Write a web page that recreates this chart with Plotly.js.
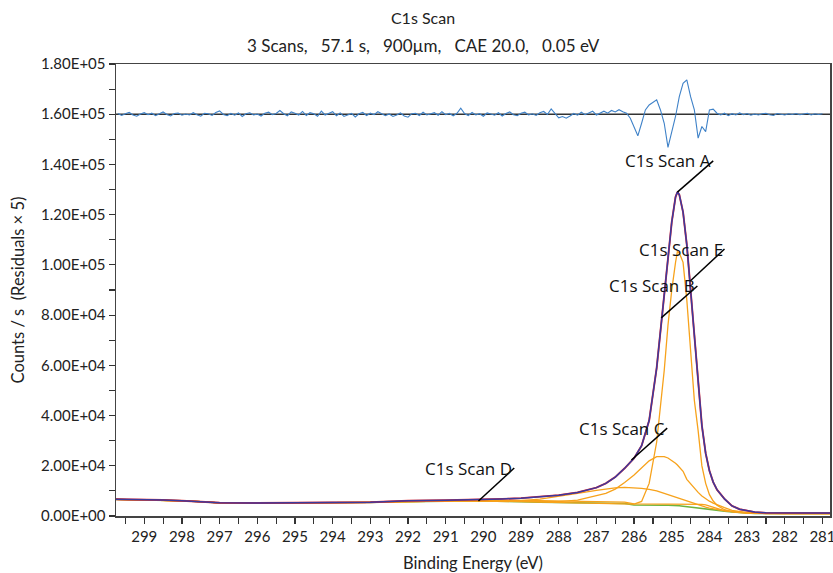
<!DOCTYPE html>
<html><head><meta charset="utf-8">
<script src="https://cdn.plot.ly/plotly-3.0.1.min.js"></script>
<style>html,body{margin:0;padding:0;background:#fff}#chart{width:833px;height:573px}</style>
</head><body><div id="chart"></div>
<script>
// Binding energy grid (eV) for the fitted curves
const bindingEnergy = [299.75, 299.5, 299, 298.5, 298, 297.5, 297, 296, 295, 294,
  293, 292.5, 292, 291, 290, 289.5, 289, 288.5, 288, 287.5,
  287, 286.75, 286.5, 286.25, 286, 285.8, 285.6, 285.4, 285.2, 285.1,
  285.0, 284.9, 284.85, 284.8, 284.7, 284.6, 284.5, 284.4, 284.3, 284.2,
  284.1, 284.0, 283.9, 283.8, 283.6, 283.4, 283.2, 283.0, 282.8, 282.5,
  282, 281.5, 281, 280.8];

// Envelope (fit sum), counts/s
const envelope = [6650, 6650, 6500, 6400, 6100, 5800, 5250, 5200, 5200, 5200,
  5500, 5800, 6100, 6300, 6500, 6800, 7100, 7600, 8300, 9400,
  11300, 13000, 15500, 19000, 23000, 28000, 38000, 59000, 87000, 103000,
  117000, 127000, 129000, 128000, 121000, 108000, 90000, 70000, 52000, 36000,
  25000, 18000, 13500, 10500, 6800, 4000, 2700, 2000, 1550, 1250,
  1150, 1150, 1150, 1150];

// Background (Shirley-type)
const background = [6600, 6550, 6450, 6350, 6050, 5700, 5200, 5150, 5150, 5150,
  5400, 5600, 5800, 5900, 5950, 5900, 5700, 5500, 5350, 5300,
  5250, 5200, 5150, 5000, 4400, 4300, 4280, 4270, 4260, 4260,
  4260, 4250, 4200, 4100, 3900, 3700, 3500, 3300, 3100, 2950,
  2800, 2600, 2450, 2300, 1950, 1650, 1350, 1150, 1050, 1000,
  1000, 1000, 1000, 1000];

// Component heights above background
const peakMain = [0,0,0,0,0,0,0,0,0,0, 0,0,0,0,0,0,0,0,0,0, 0,0,0,0,
  300, 1500, 8700, 25200, 53700, 71700, 85700, 96700, 101100, 100700,
  97100, 82300, 63500, 42700, 30900, 17000, 10200, 5900, 3500, 2000,
  550, 100, 50, 0,0,0,0,0,0,0];
const peakSecond = [0,0,0,0,0,0,0,0,0,0, 0,0,0,0,0,0,0,
  100, 350, 1000, 2650, 3800, 5550, 8300, 11900, 15000, 17700, 19400, 19400, 18850,
  17950, 16750, 16100, 15400, 13900, 10900, 9300, 7700, 6300, 5050,
  4000, 3300, 2650, 2100, 1350, 550, 250, 150, 100, 0,0,0,0,0];
const peakBroad = [0,0,0,0,0,0,0,0,0,0, 0,0,0,0,0,
  100, 400, 1200, 2350, 3700, 4950, 5600, 6050, 6400, 6900, 6700, 6320, 5730, 4740, 4240,
  3740, 3250, 3000, 2800, 2500, 2200, 1800, 1500, 1200, 950,
  700, 550, 400, 250, 100, 100, 100, 50, 0,0,0,0,0,0];
const peakSmall = [0,0,0,0,0,0,0,0,0,0, 0,0,0,0,
  250, 400, 550, 650, 700, 700, 650, 600, 550, 500, 400, 500, 510, 520, 520, 520,
  520, 530, 570, 670, 860, 1050, 1250, 1450, 1600, 1700,
  1600, 1300, 950, 600, 150, 100, 50, 20, 0,0,0,0,0,0];

// Residuals (x5), deviation from the residual zero line; grid 299.7 -> 281.0 eV, 0.1 eV step
const residualStart = 299.7, residualStep = 0.1;
const residualZero = 160000;
const residuals = [
  300, -500, 200, 700, -300, -800, 100, 600, -200, 400,
  -600, 200, 900, -100, -700, 300, 500, -400, 100, -300,
  600, -200, -800, 400, 200, -500, 700, 1300, -100, -600,
  300, -400, 500, -900, 200, 600, -300, 100, -700, 400,
  800, -200, 300, 1500, 200, -600, 900, 400, -300, 1100,
  -500, 600, 200, -800, 1200, -300, 300, 1000, -600, 500,
  -900, -400, 300, -1100, 200, 700, -500, 400, -200, 1000,
  300, -600, 100, -900, -300, 500, -700, -1200, 200, 400,
  -500, 800, -300, 200, 600, -400, 1000, -200, 300, -600,
  400, 2400, 300, -500, 700, -300, 200, -800, 500, 100,
  -400, 600, -700, 300, 900, -200, -600, 400, 800, -300,
  200, -500, 600, 1100, -100, 2100, 300, -1400, -900, -1600,
  -700, 300, -400, 800, -200, 600, 1200, -300, 600, 1200,
  400, 1500, 900, 1800, 1000, 400, -1600, -4900, -8600, -3600,
  1700, 3700, 4600, 5700, 1700, -3600, -13200, -6900, -900, 7000,
  12300, 13700, 7000, 1700, -9500, -4900, -6900, 1700, 2000, 400,
  -300, 400, -600, 200, -300, 500, -200, 300, -400, 100,
  -300, 200, 400, -200, -500, 300, 100, -300, 200, -100,
  300, -200, 100, 400, -300, 200, -100, 200];

// Axis ticks
const xTickVals = [299, 298, 297, 296, 295, 294, 293, 292, 291, 290, 289, 288, 287, 286, 285, 284, 283, 282, 281];
const xTickText = xTickVals.map(String);
const yTickVals = [0, 20000, 40000, 60000, 80000, 100000, 120000, 140000, 160000, 180000];
const yTickText = ["0.00E+00", "2.00E+04", "4.00E+04", "6.00E+04", "8.00E+04", "1.00E+05", "1.20E+05", "1.40E+05", "1.60E+05", "1.80E+05"];

// Peak labels: text, tip point, label anchor point
const labelText = ["C1s Scan A", "C1s Scan E", "C1s Scan B", "C1s Scan C", "C1s Scan D"];
const labelTipBE = [284.85, 284.51, 285.28, 286.07, 290.13];
const labelTipCounts = [129000, 93600, 78900, 22300, 6000];
const labelTailBE = [283.90, 283.60, 284.32, 285.12, 289.18];
const labelTailCounts = [141400, 106300, 91600, 35000, 19100];

const residualBE = residuals.map((_, i) => +(residualStart - i * residualStep).toFixed(2));
const addBg = arr => arr.map((v, i) => v + background[i]);

const orange = '#f7a21b';
const traces = [
  {x: bindingEnergy, y: background, mode: 'lines', line: {color: '#6db33f', width: 1.6}},
  {x: bindingEnergy, y: addBg(peakSmall), mode: 'lines', line: {color: orange, width: 1.3}},
  {x: bindingEnergy, y: addBg(peakBroad), mode: 'lines', line: {color: orange, width: 1.3}},
  {x: bindingEnergy, y: addBg(peakSecond), mode: 'lines', line: {color: orange, width: 1.3}},
  {x: bindingEnergy, y: addBg(peakMain), mode: 'lines', line: {color: orange, width: 1.3}},
  {x: bindingEnergy, y: envelope, mode: 'lines', line: {color: '#e8262b', width: 1.9}},
  {x: bindingEnergy, y: envelope, mode: 'lines', line: {color: '#3b3a9e', width: 1.5}},
  {x: residualBE, y: residuals.map(r => residualZero + r), mode: 'lines', line: {color: '#3f82c8', width: 1.1}}
];

const axisFont = {family: 'Lato, sans-serif', size: 15, color: '#222'};
const titleFont = {family: 'Lato, sans-serif', size: 16.5, color: '#222'};
const annotations = labelText.map((t, i) => ({
  x: labelTailBE[i], y: labelTailCounts[i], xref: 'x', yref: 'y',
  text: t, showarrow: false, xanchor: 'right', yanchor: 'middle', xshift: 0,
  font: {family: '"Open Sans", sans-serif', size: 17, color: '#111'}
}));
annotations.push({
  xref: 'paper', yref: 'paper', x: 0.431, y: 1 + 19 / 452, xanchor: 'center', yanchor: 'middle',
  showarrow: false, text: '3 Scans,\u00a0\u00a0 57.1 s,\u00a0\u00a0 900\u00b5m,\u00a0\u00a0 CAE 20.0,\u00a0\u00a0 0.05 eV',
  font: {family: 'Lato, sans-serif', size: 17, color: '#222'}
});

const shapes = labelText.map((t, i) => ({
  type: 'line', xref: 'x', yref: 'y',
  x0: labelTipBE[i], y0: labelTipCounts[i], x1: labelTailBE[i], y1: labelTailCounts[i],
  line: {color: '#000', width: 1.5}
}));
shapes.push({type: 'line', xref: 'paper', yref: 'y', x0: 0, x1: 1, y0: residualZero, y1: residualZero,
  line: {color: '#333', width: 1.6}, layer: 'below'});

const layout = {
  width: 833, height: 573,
  margin: {l: 116, r: 3, t: 64, b: 57},
  paper_bgcolor: '#fff', plot_bgcolor: '#fff',
  showlegend: false,
  font: axisFont,
  title: {text: 'C1s Scan', x: 423 / 833, xref: 'container', xanchor: 'center',
    y: 1 - 18 / 573, yref: 'container', yanchor: 'middle',
    font: {family: 'Lato, sans-serif', size: 16, color: '#222'}},
  xaxis: {
    range: [299.75, 280.8], tickmode: 'array', tickvals: xTickVals, ticktext: xTickText,
    ticks: 'outside', ticklen: 6, tickwidth: 1.2, tickcolor: '#333', ticklabeloverflow: 'allow',
    minor: {tickmode: 'linear', tick0: 0.5, dtick: 0.5, ticks: 'outside', ticklen: 6, tickwidth: 1.2, tickcolor: '#333'},
    showline: true, linecolor: '#444', linewidth: 1.5, mirror: true,
    showgrid: false, zeroline: false, tickfont: axisFont,
    title: {text: 'Binding Energy (eV)', font: titleFont, standoff: 16}
  },
  yaxis: {
    range: [0, 180000], tickmode: 'array', tickvals: yTickVals, ticktext: yTickText,
    ticks: 'outside', ticklen: 6, tickwidth: 1.2, tickcolor: '#333',
    minor: {tickmode: 'linear', tick0: 0, dtick: 10000, ticks: 'outside', ticklen: 6, tickwidth: 1.2, tickcolor: '#333'},
    showline: true, linecolor: '#444', linewidth: 1.5, mirror: true,
    showgrid: false, zeroline: false, tickfont: axisFont,
    title: {text: 'Counts / s\u00a0 (Residuals \u00d7 5)', font: titleFont, standoff: 12}
  },
  annotations: annotations,
  shapes: shapes
};

Plotly.newPlot('chart', traces, layout, {displayModeBar: false, staticPlot: true});
</script></body></html>
